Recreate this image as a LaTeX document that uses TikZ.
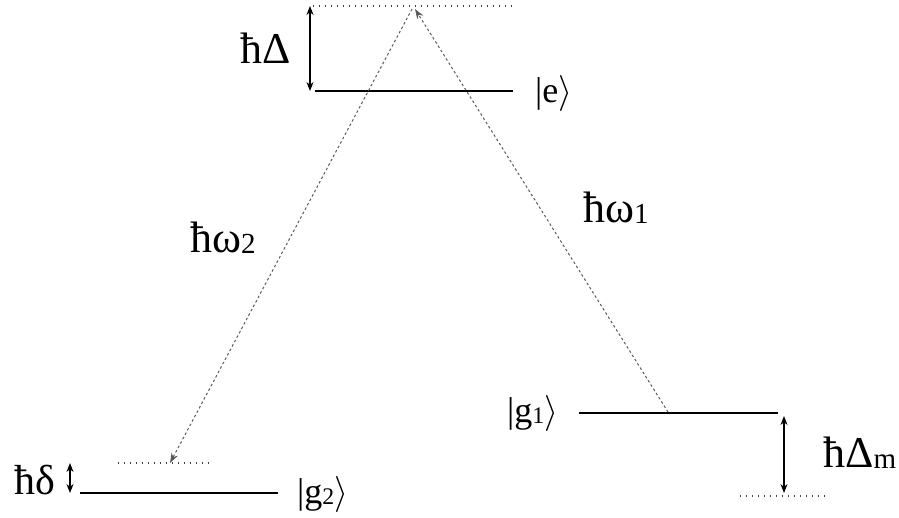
\RequirePackage{fix-cm}
\documentclass[tikz,border=0pt]{standalone}
\usepackage{fontspec}
\setmainfont{Liberation Serif}
\usetikzlibrary{arrows.meta}
\newcommand{\sbs}[1]{\raisebox{-0.04em}{\scalebox{0.66}{#1}}}
\begin{document}
\begin{tikzpicture}[x=1pt,y=-1pt,
  level/.style={line width=2pt,black},
  virt/.style={line width=1.3pt,dash pattern=on 1.3pt off 4.7pt,black!75},
  photon/.style={line width=1pt,dash pattern=on 2.5pt off 2.5pt,black!65,-{Stealth[length=10pt,width=7pt]}},
  gap/.style={line width=1.2pt,{Stealth[length=9pt,width=7pt]}-{Stealth[length=9pt,width=7pt]}},
  big/.style={font=\fontsize{44}{48}\selectfont,inner sep=0pt},
  ket/.style={font=\fontsize{36}{40}\selectfont,inner sep=0pt}]
\useasboundingbox (0,0) rectangle (899,517);
% levels
\coordinate (vtL) at (313,6); \coordinate (vtR) at (515,6);
\coordinate (eL) at (315,91); \coordinate (eR) at (513,91);
\coordinate (g2L) at (80,493); \coordinate (g2R) at (278,493);
\coordinate (v2L) at (118,463); \coordinate (v2R) at (213,463);
\coordinate (g1L) at (579,413); \coordinate (g1R) at (778,413);
\coordinate (vmL) at (740,496); \coordinate (vmR) at (828,496);
\draw[virt] (vtL) -- (vtR);
\draw[level] (eL) -- (eR);
\draw[level] (g2L) -- (g2R);
\draw[virt] (v2L) -- (v2R);
\draw[level] (g1L) -- (g1R);
\draw[virt] (vmL) -- (vmR);
% photons
\coordinate (apexL) at (412,9);
\coordinate (apexR) at (415,9);
\coordinate (bot2) at (170,463);
\coordinate (g1p) at (668,412);
\draw[photon] (apexL) -- (bot2);
\draw[photon] (g1p) -- (apexR);
% gaps
\coordinate (dA) at (310,6); \coordinate (dB) at (310,91);
\draw[gap] (dA) -- (dB);
\coordinate (sA) at (70,463); \coordinate (sB) at (70,493);
\draw[gap] (sA) -- (sB);
\coordinate (mA) at (784,416); \coordinate (mB) at (784,493);
\draw[gap] (mA) -- (mB);
% labels
\node[big,anchor=base west] (lD) at (240,63) {ħΔ};
\node[ket,anchor=base west] (le) at (535,102) {|e$\rangle$};
\node[big,anchor=base west] (lw2) at (190,252) {ħω\sbs{2}};
\node[big,anchor=base west] (lw1) at (583,222) {ħω\sbs{1}};
\node[ket,anchor=base west] (lg1) at (507,422) {|g\sbs{1}$\rangle$};
\node[ket,anchor=base west] (lg2) at (297,503) {|g\sbs{2}$\rangle$};
\node[big,anchor=base west,font=\fontsize{42}{46}\selectfont] (ld) at (14,494) {ħδ};
\node[big,anchor=base west] (lm) at (823,467) {ħΔ\sbs{m}};
\end{tikzpicture}
\end{document}
